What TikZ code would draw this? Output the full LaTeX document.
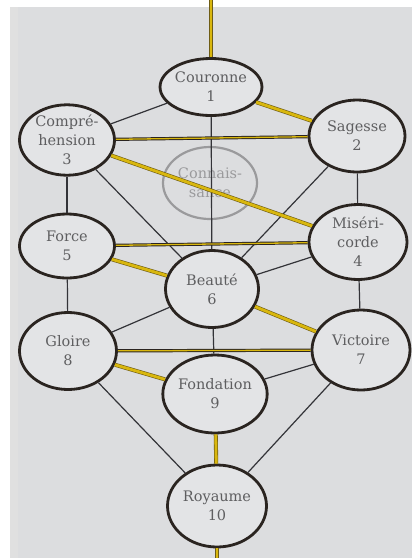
\documentclass[tikz,border=0pt]{standalone}
\usepackage{fontspec}
\setmainfont{DejaVu Serif}
\usetikzlibrary{shapes.geometric}
\definecolor{bg}{HTML}{DCDDDF}
\definecolor{nodefill}{HTML}{E3E4E6}
\definecolor{nodeline}{HTML}{2A2420}
\definecolor{txt}{HTML}{5E5E60}
\definecolor{ylw}{HTML}{D9B70E}
\definecolor{olive}{HTML}{6E5C14}
\definecolor{thin}{HTML}{333338}
\definecolor{ghost}{HTML}{9A9A9C}
\begin{document}
\begin{tikzpicture}[x=1pt,y=-1pt,
  sef/.style={ellipse, draw=nodeline, line width=2.8pt, fill=nodefill, inner sep=0pt,
    align=center, text=txt, font=\fontsize{14.5}{19}\selectfont},
  ghostnode/.style={ellipse, draw=ghost, line width=2.2pt, inner sep=0pt,
    align=center, text=ghost, font=\fontsize{14.5}{19}\selectfont},
  thinline/.style={draw=thin, line width=1.2pt},
  ypath/.style={draw=olive, line width=4pt, postaction={draw=ylw, line width=2.8pt}},
  hbar/.style={draw=nodeline, line width=3.2pt, postaction={draw=ylw, line width=1.3pt}}
]
\useasboundingbox (0,0) rectangle (412,558);
\fill[white] (0,0) rectangle (412,558);
\fill[bg] (10,7) rectangle (412,558);
\fill[black!12] (10,7) rectangle (18,558);

\node[sef, minimum width=92, minimum height=57] (n1) at (211,87) {Couronne\\1};
\node[sef, minimum width=96, minimum height=72] (n2) at (357,136) {Sagesse\\2};
\node[sef, minimum width=95, minimum height=66] (n3) at (67,140) {Compré-\\hension\\3};
\node[ghostnode, minimum width=94, minimum height=72] (nc) at (210,183) {Connais-\\sance};
\node[sef, minimum width=98, minimum height=75] (n4) at (358,242) {Miséri-\\corde\\4};
\node[sef, minimum width=95, minimum height=64] (n5) at (67,246) {Force\\5};
\node[sef, minimum width=93, minimum height=77] (n6) at (212,289) {Beauté\\6};
\node[sef, minimum width=98, minimum height=80] (n7) at (361,350) {Victoire\\7};
\node[sef, minimum width=97, minimum height=77] (n8) at (68,351) {Gloire\\8};
\node[sef, minimum width=96, minimum height=78] (n9) at (215,394) {Fondation\\9};
\node[sef, minimum width=99, minimum height=82] (n10) at (217,506) {Royaume\\10};
\coordinate (top) at (211,0);
\coordinate (bot) at (217,558);

% thin connectors
\draw[thinline] (n1) -- (n3);
\draw[thinline] (n1) -- (n6);
\draw[thinline] (n3) -- (n5);
\draw[thinline] (n3) -- (n6);
\draw[thinline] (n2) -- (n4);
\draw[thinline] (n2) -- (n6);
\draw[thinline] (n4) -- (n6);
\draw[thinline] (n4) -- (n7);
\draw[thinline] (n5) -- (n8);
\draw[thinline] (n6) -- (n8);
\draw[thinline] (n6) -- (n9);
\draw[thinline] (n7) -- (n9);
\draw[thinline] (n8) -- (n10);
\draw[thinline] (n7) -- (n10);

% yellow connectors
\draw[ypath] (top) -- (n1);
\draw[ypath] (n1) -- (n2);
\draw[ypath] (n3) -- (n4);
\draw[ypath] (n5) -- (n6);
\draw[ypath] (n6) -- (n7);
\draw[ypath] (n8) -- (n9);
\draw[ypath] (n9) -- (n10);
\draw[ypath] (n10) -- (bot);
\draw[hbar] (n3) -- (n2);
\draw[hbar] (n5) -- (n4);
\draw[hbar] (n8) -- (n7);
\end{tikzpicture}
\end{document}
